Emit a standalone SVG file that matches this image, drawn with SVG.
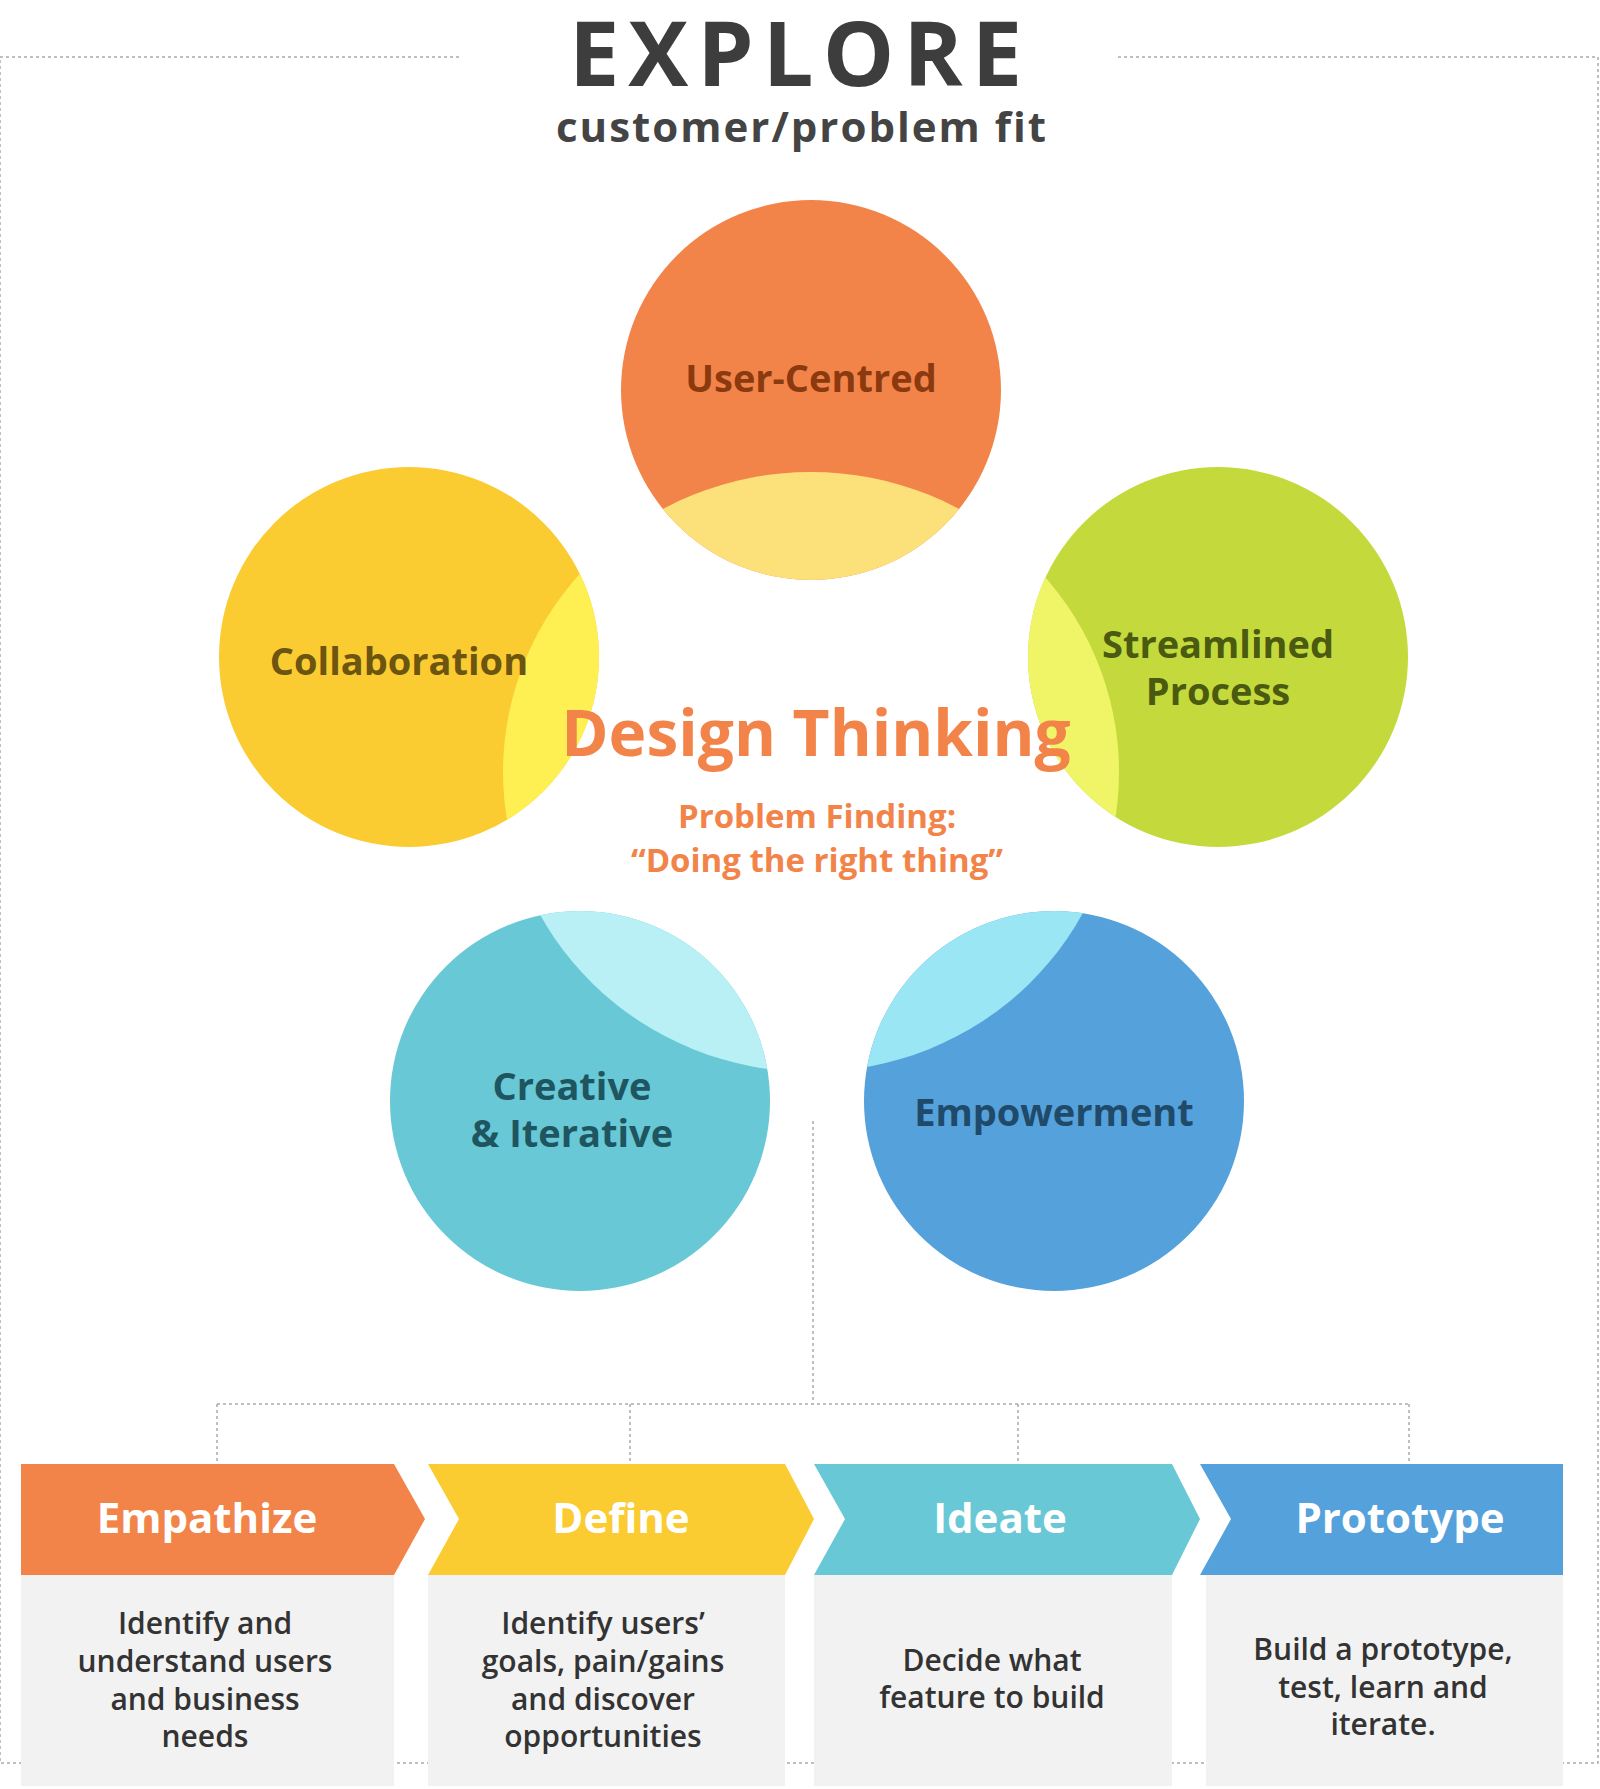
<svg xmlns="http://www.w3.org/2000/svg" width="1600" height="1789" viewBox="0 0 1600 1789">
<style>
text{font-family:"Open Sans","Liberation Sans",sans-serif;font-weight:700;text-anchor:middle}
.dot{fill:none;stroke:#aaa;stroke-width:1.5;stroke-dasharray:3 3}
.hd{fill:#fff;font-size:42px}
.bd{fill:#333;font-size:30px;font-weight:600}
.box{fill:#f2f2f2}
</style>
<defs>
<clipPath id="c"><ellipse cx="811" cy="772" rx="308" ry="300"/></clipPath>
</defs>
<rect width="1600" height="1789" fill="#fff"/>
<g id="frame">
<path class="dot" d="M0 57H462M1118 57H1598V1763H0V57"/>
</g>
<g id="title">
<text x="800" y="86" font-size="90" fill="#3d3d3d" letter-spacing="9">EXPLORE</text>
<text x="802" y="142" font-size="42" fill="#444" letter-spacing="2">customer/problem fit</text>
</g>
<g id="user-centred">
<circle cx="811" cy="390" r="190" fill="#F2844A"/>
<circle cx="811" cy="390" r="190" fill="#FCE17A" clip-path="url(#c)"/>
<text x="811" y="392" font-size="38" fill="#8B3A10">User-Centred</text>
</g>
<g id="collaboration">
<circle cx="409" cy="657" r="190" fill="#FBCB32"/>
<circle cx="409" cy="657" r="190" fill="#FEF052" clip-path="url(#c)"/>
<text x="399" y="675" font-size="38" fill="#6B5510">Collaboration</text>
</g>
<g id="streamlined">
<circle cx="1218" cy="657" r="190" fill="#C4DA3C"/>
<circle cx="1218" cy="657" r="190" fill="#EFF566" clip-path="url(#c)"/>
<text x="1218" y="658" font-size="38" fill="#4A5A10">Streamlined</text>
<text x="1218" y="705" font-size="38" fill="#4A5A10">Process</text>
</g>
<g id="creative">
<circle cx="580" cy="1101" r="190" fill="#68C8D5"/>
<circle cx="580" cy="1101" r="190" fill="#B8F0F5" clip-path="url(#c)"/>
<text x="572" y="1100" font-size="38" fill="#1F5560">Creative</text>
<text x="572" y="1147" font-size="38" fill="#1F5560">&amp; Iterative</text>
</g>
<g id="empowerment">
<circle cx="1054" cy="1101" r="190" fill="#55A1DB"/>
<circle cx="1054" cy="1101" r="190" fill="#9BE6F4" clip-path="url(#c)"/>
<text x="1054" y="1126" font-size="38" fill="#1F4A6A">Empowerment</text>
</g>
<g id="design-thinking">
<text x="816" y="756" font-size="64" fill="#F2844A">Design Thinking</text>
<text x="817" y="828" font-size="33" font-weight="600" fill="#F2844A">Problem Finding:</text>
<text x="817" y="872" font-size="33" font-weight="600" fill="#F2844A">“Doing the right thing”</text>
</g>
<g id="connectors">
<path class="dot" d="M813 1121V1404M217 1404H1409M217 1404V1461M630 1404V1461M1018 1404V1461M1409 1404V1461"/>
</g>
<g id="empathize">
<path d="M21 1464H394L425 1519L394 1575H21Z" fill="#F2844A"/>
<rect class="box" x="21" y="1575" width="373" height="211"/>
<text class="hd" x="207" y="1533">Empathize</text>
<text class="bd" x="205" y="1634">Identify and</text>
<text class="bd" x="205" y="1672">understand users</text>
<text class="bd" x="205" y="1710">and business</text>
<text class="bd" x="205" y="1747">needs</text>
</g>
<g id="define">
<path d="M428 1464H785L814 1519L785 1575H428L459 1519Z" fill="#FBCB32"/>
<rect class="box" x="428" y="1575" width="357" height="211"/>
<text class="hd" x="621" y="1533">Define</text>
<text class="bd" x="603" y="1634">Identify users’</text>
<text class="bd" x="603" y="1672">goals, pain/gains</text>
<text class="bd" x="603" y="1710">and discover</text>
<text class="bd" x="603" y="1747">opportunities</text>
</g>
<g id="ideate">
<path d="M814 1464H1172L1200 1519L1172 1575H814L845 1519Z" fill="#68C8D5"/>
<rect class="box" x="814" y="1575" width="358" height="211"/>
<text class="hd" x="1000" y="1533">Ideate</text>
<text class="bd" x="992" y="1671">Decide what</text>
<text class="bd" x="992" y="1708">feature to build</text>
</g>
<g id="prototype">
<path d="M1200 1464H1563V1575H1200L1231 1519Z" fill="#55A1DB"/>
<rect class="box" x="1206" y="1575" width="357" height="211"/>
<text class="hd" x="1400" y="1533">Prototype</text>
<text class="bd" x="1383" y="1660">Build a prototype,</text>
<text class="bd" x="1383" y="1698">test, learn and</text>
<text class="bd" x="1383" y="1735">iterate.</text>
</g>
</svg>
